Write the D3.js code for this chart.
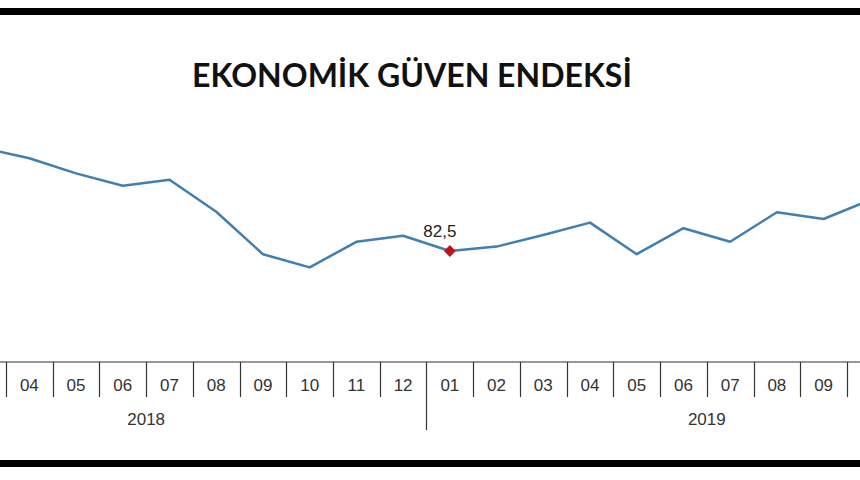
<!DOCTYPE html>
<html>
<head>
<meta charset="utf-8">
<script src="https://cdn.jsdelivr.net/npm/d3@7"></script>
<style>
  html, body { margin: 0; padding: 0; background: #fff; }
  svg { display: block; }
</style>
</head>
<body>
<svg id="chart" width="860" height="480"></svg>
<script>
const title = "EKONOMİK GÜVEN ENDEKSİ";
const years = ["2018", "2019"];
const monthLabels = ["01","02","03","04","05","06","07","08","09","10","11","12"];
// Visible data: 2018-03 .. 2019-10
const dataMonths = ["2018-03","2018-04","2018-05","2018-06","2018-07","2018-08","2018-09","2018-10","2018-11","2018-12",
                    "2019-01","2019-02","2019-03","2019-04","2019-05","2019-06","2019-07","2019-08","2019-09","2019-10"];
const values = [108.3,105.7,101.9,98.8,100.3,92.3,81.7,78.4,84.8,86.3,
                82.5,83.6,86.5,89.6,81.7,88.2,84.8,92.2,90.5,95.3];
const highlightMonth = "2019-01";
const highlightLabel = "82,5";

const svg = d3.select("#chart");
const W = 860, H = 480;

const allMonths = [];
years.forEach(y => monthLabels.forEach(m => allMonths.push(y + "-" + m)));

const step = 46.72;
const x0r = 6 - 3 * step;
const x = d3.scaleBand().domain(allMonths).range([x0r, x0r + 24 * step]).paddingInner(0).paddingOuter(0);
const y = d3.scaleLinear().domain([82.5, 92.5]).range([251, 211]);

const axisY = 362;

// borders
svg.append("rect").attr("x", 0).attr("y", 8).attr("width", W).attr("height", 7).attr("fill", "#000");
svg.append("rect").attr("x", 0).attr("y", 460).attr("width", W).attr("height", 7).attr("fill", "#000");

// title
svg.append("text").attr("x", 412).attr("y", 87).attr("text-anchor", "middle")
  .attr("font-family", "Lato, 'Open Sans', sans-serif").attr("font-weight", 700)
  .attr("font-size", 32).attr("fill", "#111").text(title);

// axis line
svg.append("line").attr("x1", 0).attr("x2", W).attr("y1", axisY).attr("y2", axisY)
  .attr("stroke", "#333").attr("stroke-width", 1.2);

// separators and month labels
const g = svg.append("g");
allMonths.forEach((m) => {
  const xs = Math.round(x(m)) + 0.5;
  if (xs < -2 || xs > W + 2) return;
  const isYear = m.endsWith("-01");
  g.append("line").attr("x1", xs).attr("x2", xs).attr("y1", axisY).attr("y2", isYear ? 430 : 397)
    .attr("stroke", "#333").attr("stroke-width", 1.2);
});
allMonths.forEach((m) => {
  const cx = x(m) + x.bandwidth() / 2;
  if (cx - 10 < 0 || cx + 10 > W) return;
  g.append("text").attr("x", cx).attr("y", 391).attr("text-anchor", "middle")
    .attr("font-family", "Arial, 'Liberation Sans', sans-serif").attr("font-size", 17).attr("fill", "#333")
    .text(m.slice(5));
});
years.forEach(yr => {
  const a = x(yr + "-01"), b = x(yr + "-12") + x.bandwidth();
  g.append("text").attr("x", (a + b) / 2).attr("y", 425).attr("text-anchor", "middle")
    .attr("font-family", "Arial, 'Liberation Sans', sans-serif").attr("font-size", 17).attr("fill", "#333")
    .text(yr);
});

// line
const pts = dataMonths.map((m, i) => ({m, v: values[i]}));
const line = d3.line().x(d => x(d.m) + x.bandwidth() / 2).y(d => y(d.v));
svg.append("path").datum(pts).attr("d", line).attr("fill", "none")
  .attr("stroke", "#3f7fb2").attr("stroke-width", 2.5).attr("stroke-linejoin", "round");

// highlight
const hv = values[dataMonths.indexOf(highlightMonth)];
const hx = x(highlightMonth) + x.bandwidth() / 2, hy = y(hv);
svg.append("path").attr("d", d3.symbol().type(d3.symbolSquare).size(70)())
  .attr("transform", `translate(${hx},${hy}) rotate(45)`).attr("fill", "#c0121c");
svg.append("text").attr("x", hx - 10).attr("y", hy - 14).attr("text-anchor", "middle")
  .attr("font-family", "Arial, 'Liberation Sans', sans-serif").attr("font-size", 17).attr("fill", "#222")
  .text(highlightLabel);
</script>
</body>
</html>
